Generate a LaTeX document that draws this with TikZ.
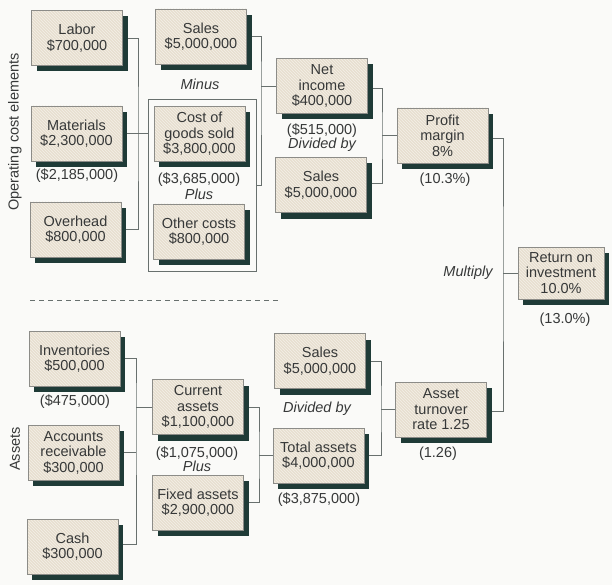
\documentclass[tikz,border=0pt]{standalone}
\usepackage{fontspec}
\setmainfont{Liberation Sans}
\usetikzlibrary{shadows,patterns,backgrounds}
\definecolor{pagec}{HTML}{FAFAF8}
\definecolor{boxc}{HTML}{E7DFD0}
\definecolor{stripec}{HTML}{F4F0E8}
\definecolor{borderc}{HTML}{8C8C88}
\definecolor{shadowc}{HTML}{1F3B37}
\definecolor{textc}{HTML}{363838}
\definecolor{wirec}{HTML}{68706E}
\tikzset{
  card/.style={general shadow={shadow xshift=5pt, shadow yshift=-6pt, fill=shadowc},
    preaction={fill=boxc}, pattern=north west lines, pattern color=stripec,
    draw=borderc, line width=0.6pt, minimum width=91pt, minimum height=55pt,
    inner sep=0pt, align=center, text=textc,
    font=\fontsize{14.5}{15.5}\selectfont},
  note/.style={text=textc, inner sep=0pt, font=\fontsize{14.5}{15.5}\selectfont},
  op/.style={note, font=\fontsize{14.5}{15.5}\selectfont\itshape},
  side/.style={note, rotate=90},
  wire/.style={draw=wirec, line width=0.7pt},
  frame/.style={draw=wirec, line width=0.7pt, inner sep=0pt}
}
\begin{document}
\begin{tikzpicture}[x=1pt, y=-1pt]
\useasboundingbox (0,0) rectangle (612,585);

% operating cost elements
\node[card] (labor) at (77,38) {Labor\\\$700,000};
\node[card] (materials) at (76.5,133.5) {Materials\\\$2,300,000};
\node[card] (overhead) at (75.5,229.5) {Overhead\\\$800,000};
\node[note] (matprior) at (77,176) {(\$2,185,000)};

\node[card] (salesA) at (201,36.5) {Sales\\\$5,000,000};
\node[op] (minus) at (200,84) {Minus};
\node[frame, minimum width=108pt, minimum height=172pt] (group) at (202,185) {};
\node[card] (cogs) at (199.5,134) {Cost of\\goods sold\\\$3,800,000};
\node[note] (cogsprior) at (199,180) {(\$3,685,000)};
\node[op] (plusA) at (199,194) {Plus};
\node[card] (other) at (199,231.5) {Other costs\\\$800,000};

\node[card] (netinc) at (322,86) {Net\\income\\\$400,000};
\node[note] (netprior) at (322,131) {(\$515,000)};
\node[op] (divA) at (322,145) {Divided by};
\node[card] (salesB) at (321,185) {Sales\\\$5,000,000};

\node[card] (margin) at (442.5,135.5) {Profit\\margin\\8\%};
\node[note] (marginprior) at (445,180) {(10.3\%)};

\node[op] (mult) at (468,273) {Multiply};
\node[card, minimum width=86pt, minimum height=52pt] (roi) at (561,273) {Return on\\investment\\10.0\%};
\node[note] (roiprior) at (565,320) {(13.0\%)};

% assets
\node[card] (inv) at (74.5,358.5) {Inventories\\\$500,000};
\node[note] (invprior) at (75,402) {(\$475,000)};
\node[card] (recv) at (73.5,452.5) {Accounts\\receivable\\\$300,000};
\node[card] (cash) at (72.5,546.5) {Cash\\\$300,000};

\node[card] (curr) at (198,407) {Current\\assets\\\$1,100,000};
\node[note] (currprior) at (197,454) {(\$1,075,000)};
\node[op] (plusB) at (197,466) {Plus};
\node[card] (fixed) at (198,502.5) {Fixed assets\\\$2,900,000};

\node[card] (salesC) at (320,361) {Sales\\\$5,000,000};
\node[op] (divB) at (317,409) {Divided by};
\node[card] (total) at (318.5,455.5) {Total assets\\\$4,000,000};
\node[note] (totalprior) at (319,500) {(\$3,875,000)};

\node[card] (turn) at (441,409.5) {Asset\\turnover\\rate 1.25};
\node[note] (turnprior) at (438,454) {(1.26)};

% side captions
\node[side] (opcap) at (15,132) {Operating cost elements};
\node[side] (assetcap) at (15,449) {Assets};

% bus coordinates
\coordinate (busA) at (138,134);
\coordinate (busB) at (261,86);
\coordinate (busC) at (382,135.5);
\coordinate (busD) at (503,273);
\coordinate (busE) at (381,409.5);
\coordinate (busF) at (136,407);
\coordinate (busG) at (259,455.5);
\coordinate (dashL) at (30,300);
\coordinate (dashR) at (278,300);

\begin{pgfonlayer}{background}
  \fill[pagec] (0,0) rectangle (612,585);
  \draw[wire] (labor.east) -| (busA) |- (overhead.east);
  \draw[wire] (materials.east) -- (materials.east -| group.west);
  \draw[wire] (salesA.east) -| (busB) |- (group.east);
  \draw[wire] (busB) -- (netinc.west);
  \draw[wire] ([yshift=-2pt]netinc.east) -| (busC) |- ([yshift=2pt]salesB.east);
  \draw[wire] (busC) -- (margin.west);
  \draw[wire] ([yshift=-3pt]margin.east) -| (busD) |- ([yshift=-1.5pt]turn.east);
  \draw[wire] (busD) -- (roi.west);
  \draw[wire] (salesC.east) -| (busE) |- (total.east);
  \draw[wire] (busE) -- (turn.west);
  \draw[wire] (inv.east) -| (busF) |- ([yshift=2.5pt]cash.east);
  \draw[wire] (recv.east) -- (recv.east -| busF);
  \draw[wire] (busF) -- (curr.west);
  \draw[wire] (curr.east) -| (busG) |- (fixed.east);
  \draw[wire] (busG) -- (total.west);
  \draw[wire, dash pattern=on 5pt off 4pt] (dashL) -- (dashR);
\end{pgfonlayer}
\end{tikzpicture}
\end{document}
